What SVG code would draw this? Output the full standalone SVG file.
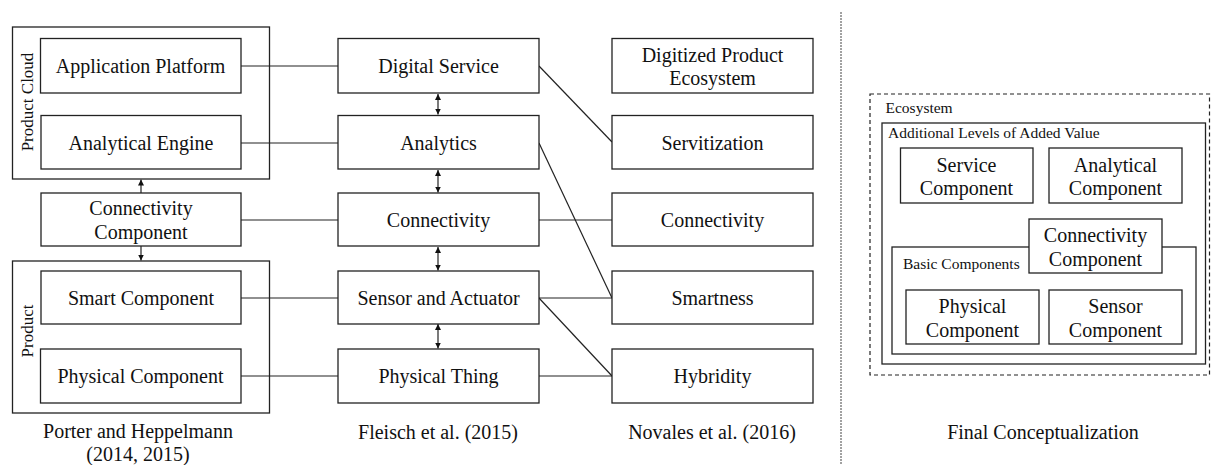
<svg xmlns="http://www.w3.org/2000/svg" width="1211" height="465" viewBox="0 0 1211 465">
<style>
.box{fill:#fff;stroke:#222;stroke-width:1.3}
.grp{fill:none;stroke:#222;stroke-width:1.3}
text{font-family:'Liberation Serif','Times New Roman',Tinos,'DejaVu Serif',serif;fill:#111}
.t{font-size:20px;text-anchor:middle}
.s{font-size:15.5px}
.r{font-size:17px;text-anchor:middle}
.c{stroke:#222;stroke-width:1.2;fill:none}
</style>
<defs>
<marker id="ah" viewBox="0 0 10 10" refX="10" refY="5" markerWidth="6" markerHeight="6" markerUnits="userSpaceOnUse" orient="auto-start-reverse">
<path d="M0,0 L10,5 L0,10 z" fill="#111"/>
</marker>
</defs>
<rect width="1211" height="465" fill="#fff"/>

<g id="connectors">
<line class="c" x1="241" y1="66" x2="338" y2="66"/>
<line class="c" x1="241" y1="143" x2="338" y2="143"/>
<line class="c" x1="241" y1="220" x2="338" y2="220"/>
<line class="c" x1="241" y1="298" x2="338" y2="298"/>
<line class="c" x1="241" y1="376" x2="338" y2="376"/>
<line class="c" x1="539" y1="66" x2="612" y2="142"/>
<line class="c" x1="539" y1="143" x2="612" y2="298"/>
<line class="c" x1="539" y1="220" x2="612" y2="220"/>
<line class="c" x1="539" y1="298" x2="612" y2="298"/>
<line class="c" x1="539" y1="298" x2="612" y2="376"/>
<line class="c" x1="539" y1="376" x2="612" y2="376"/>
<line class="c" x1="141" y1="193" x2="141" y2="179.5" marker-end="url(#ah)"/>
<line class="c" x1="141" y1="246" x2="141" y2="260.5" marker-end="url(#ah)"/>
<line class="c" x1="438" y1="94" x2="438" y2="114.5" marker-start="url(#ah)" marker-end="url(#ah)"/>
<line class="c" x1="438" y1="170" x2="438" y2="192.5" marker-start="url(#ah)" marker-end="url(#ah)"/>
<line class="c" x1="438" y1="247" x2="438" y2="270.5" marker-start="url(#ah)" marker-end="url(#ah)"/>
<line class="c" x1="438" y1="324" x2="438" y2="348.5" marker-start="url(#ah)" marker-end="url(#ah)"/>
</g>

<line x1="841" y1="12" x2="841" y2="465" stroke="#444" stroke-width="1" stroke-dasharray="2,1"/>

<g id="product-cloud">
<rect class="grp" x="12.5" y="27" width="257" height="152"/>
<text class="r" transform="translate(32.5,102) rotate(-90)" font-family="Liberation Serif, serif">Product Cloud</text>
</g>
<g id="product">
<rect class="grp" x="12.5" y="261" width="257" height="152"/>
<text class="r" transform="translate(32.5,331) rotate(-90)">Product</text>
</g>

<g id="application-platform"><rect class="box" x="40.5" y="38.5" width="200.5" height="54.5"/><text class="t" x="140.5" y="73">Application Platform</text></g>
<g id="analytical-engine"><rect class="box" x="41" y="115.5" width="200" height="53.5"/><text class="t" x="141" y="149.5">Analytical Engine</text></g>
<g id="connectivity-component"><rect class="box" x="41" y="193" width="200" height="53"/><text class="t" x="141" y="215">Connectivity</text><text class="t" x="141" y="239">Component</text></g>
<g id="smart-component"><rect class="box" x="41" y="271" width="200" height="53"/><text class="t" x="141" y="304.5">Smart Component</text></g>
<g id="physical-component"><rect class="box" x="40.5" y="349" width="200.5" height="54"/><text class="t" x="140.5" y="383">Physical Component</text></g>

<g id="digital-service"><rect class="box" x="338" y="38.5" width="201" height="54.5"/><text class="t" x="438.5" y="73">Digital Service</text></g>
<g id="analytics"><rect class="box" x="338" y="115.5" width="201" height="53.5"/><text class="t" x="438.5" y="149.5">Analytics</text></g>
<g id="connectivity-f"><rect class="box" x="338" y="193" width="201" height="53"/><text class="t" x="438.5" y="226.5">Connectivity</text></g>
<g id="sensor-actuator"><rect class="box" x="338" y="271" width="201" height="53"/><text class="t" x="438.5" y="304.5">Sensor and Actuator</text></g>
<g id="physical-thing"><rect class="box" x="338" y="349" width="201" height="54"/><text class="t" x="438.5" y="383">Physical Thing</text></g>

<g id="digitized-product-ecosystem"><rect class="box" x="612" y="38.5" width="201" height="54.5"/><text class="t" x="712.5" y="61.5">Digitized Product</text><text class="t" x="712.5" y="85">Ecosystem</text></g>
<g id="servitization"><rect class="box" x="612" y="115.5" width="201" height="53.5"/><text class="t" x="712.5" y="149.5">Servitization</text></g>
<g id="connectivity-n"><rect class="box" x="612" y="193" width="201" height="53"/><text class="t" x="712.5" y="226.5">Connectivity</text></g>
<g id="smartness"><rect class="box" x="612" y="271" width="201" height="53"/><text class="t" x="712.5" y="304.5">Smartness</text></g>
<g id="hybridity"><rect class="box" x="612" y="349" width="201" height="54"/><text class="t" x="712.5" y="383">Hybridity</text></g>

<g id="captions">
<text class="t" x="138" y="438">Porter and Heppelmann</text>
<text class="t" x="138" y="461">(2014, 2015)</text>
<text class="t" x="438" y="439">Fleisch et al. (2015)</text>
<text class="t" x="712" y="439">Novales et al. (2016)</text>
<text class="t" x="1043" y="439">Final Conceptualization</text>
</g>

<g id="ecosystem">
<rect x="870" y="94" width="339.5" height="281" fill="none" stroke="#222" stroke-width="1.2" stroke-dasharray="4,3"/>
<text class="s" x="885.5" y="113">Ecosystem</text>
</g>
<g id="additional-levels">
<rect class="grp" x="882" y="123" width="323.5" height="241"/>
<text class="s" x="888" y="137.5">Additional Levels of Added Value</text>
</g>
<g id="service-component"><rect class="box" x="900.5" y="148" width="132.5" height="55"/><text class="t" x="966.5" y="171.5">Service</text><text class="t" x="966.5" y="195">Component</text></g>
<g id="analytical-component"><rect class="box" x="1049" y="148" width="133" height="55"/><text class="t" x="1115.5" y="171.5">Analytical</text><text class="t" x="1115.5" y="195">Component</text></g>
<g id="basic-components">
<rect class="grp" x="892" y="247" width="304" height="107"/>
<text class="s" x="903" y="269">Basic Components</text>
</g>
<g id="connectivity-component-final"><rect class="box" x="1029" y="219" width="133" height="54"/><text class="t" x="1095.5" y="242">Connectivity</text><text class="t" x="1095.5" y="265.5">Component</text></g>
<g id="physical-component-final"><rect class="box" x="906" y="290" width="133" height="54"/><text class="t" x="972.5" y="313">Physical</text><text class="t" x="972.5" y="336.5">Component</text></g>
<g id="sensor-component"><rect class="box" x="1049" y="290" width="133" height="54"/><text class="t" x="1115.5" y="313">Sensor</text><text class="t" x="1115.5" y="336.5">Component</text></g>
</svg>
